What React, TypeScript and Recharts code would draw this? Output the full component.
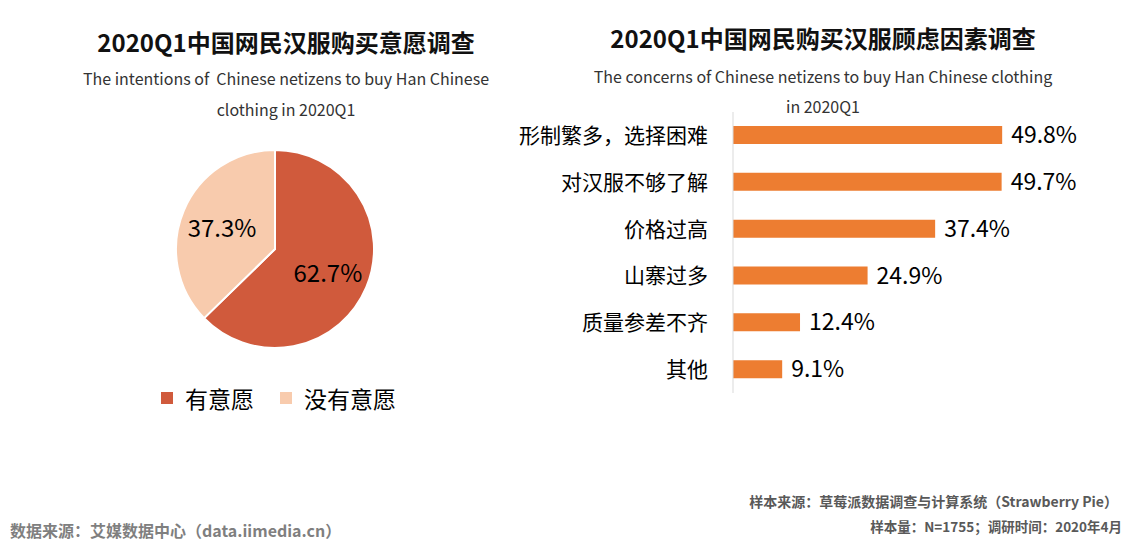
import { PieChart, Pie, Cell, Legend, BarChart, Bar, XAxis, YAxis, LabelList } from 'recharts';

const pieNames = ['有意愿', '没有意愿'];
const pieValues = [62.7, 37.3];
const PIE_COLORS = ['#D05A3C', '#F8CBAD'];

const concernNames = ['形制繁多，选择困难', '对汉服不够了解', '价格过高', '山寨过多', '质量参差不齐', '其他'];
const concernValues = [49.8, 49.7, 37.4, 24.9, 12.4, 9.1];

const pieData = pieNames.map((name, i) => ({ name, value: pieValues[i] }));
const barData = concernNames.map((name, i) => ({ name, value: concernValues[i] }));

const FONT = '"Noto Sans CJK SC", "Noto Sans", sans-serif';
const RAD = Math.PI / 180;

const renderPieLabel = (props: any) => {
  const { cx, cy, midAngle, outerRadius, value } = props;
  const r = outerRadius * 0.58;
  const x = cx + r * Math.cos(-midAngle * RAD);
  const y = cy + r * Math.sin(-midAngle * RAD);
  return (
    <text x={x} y={y} textAnchor="middle" dominantBaseline="central" fontSize={24} fill="#000">
      {`${value.toFixed(1)}%`}
    </text>
  );
};

const renderLegend = (props: any) => {
  const { payload } = props;
  return (
    <div style={{ display: 'flex', alignItems: 'center', fontSize: 23, color: '#000' }}>
      {(payload || []).map((entry: any, i: number) => (
        <div key={`leg-${i}`} style={{ display: 'flex', alignItems: 'center', marginRight: 26 }}>
          <span style={{ width: 12, height: 12, background: entry.color, display: 'inline-block', marginRight: 12 }} />
          <span>{entry.value}</span>
        </div>
      ))}
    </div>
  );
};

export default function App() {
  return (
    <div
      style={{
        position: 'absolute',
        left: 0,
        top: 0,
        width: 1134,
        height: 544,
        background: '#fff',
        fontFamily: FONT,
        overflow: 'hidden',
      }}
    >
      {/* left titles */}
      <div style={{ position: 'absolute', left: 66, width: 440, top: 26, textAlign: 'center', fontSize: 24, fontWeight: 700, lineHeight: '32px', color: '#111' }}>
        2020Q1中国网民汉服购买意愿调查
      </div>
      <div style={{ position: 'absolute', left: 56, width: 460, top: 63, textAlign: 'center', fontSize: 16, lineHeight: '31px', color: '#333' }}>
        The intentions of&nbsp; Chinese netizens to buy Han Chinese
        <br />
        clothing in 2020Q1
      </div>

      {/* right titles */}
      <div style={{ position: 'absolute', left: 573, width: 500, top: 22, textAlign: 'center', fontSize: 24, fontWeight: 700, lineHeight: '32px', color: '#111' }}>
        2020Q1中国网民购买汉服顾虑因素调查
      </div>
      <div style={{ position: 'absolute', left: 573, width: 500, top: 61, textAlign: 'center', fontSize: 16, lineHeight: '30px', color: '#333' }}>
        The concerns of Chinese netizens to buy Han Chinese clothing
        <br />
        in 2020Q1
      </div>

      <div style={{ position: 'absolute', left: 0, top: 0 }}>
        <PieChart width={560} height={440} margin={{ top: 0, right: 0, bottom: 0, left: 0 }}>
          <Pie
            data={pieData}
            dataKey="value"
            nameKey="name"
            cx={275}
            cy={249}
            outerRadius={99}
            startAngle={90}
            endAngle={-270}
            stroke="#fff"
            strokeWidth={2}
            labelLine={false}
            label={renderPieLabel}
            isAnimationActive={false}
          >
            {pieData.map((entry, index) => (
              <Cell key={`cell-${index}`} fill={PIE_COLORS[index % PIE_COLORS.length]} />
            ))}
          </Pie>
          <Legend
            content={renderLegend}
            wrapperStyle={{ left: 161, top: 381, width: 300, bottom: 'auto' }}
          />
        </PieChart>
      </div>

      <div style={{ position: 'absolute', left: 500, top: 100 }}>
        <BarChart
          width={620}
          height={310}
          data={barData}
          layout="vertical"
          margin={{ top: 12, right: 60, bottom: 17, left: 0 }}
          barSize={18}
        >
          <XAxis type="number" domain={[0, 60.5]} hide />
          <YAxis
            type="category"
            dataKey="name"
            width={233}
            tickLine={false}
            tickSize={0}
            tickMargin={25}
            axisLine={{ stroke: '#D9D9D9' }}
            tick={{ fontSize: 21, fill: '#000' }}
            interval={0}
          />
          <Bar dataKey="value" fill="#ED7D31" isAnimationActive={false}>
            <LabelList
              dataKey="value"
              position="right"
              offset={9}
              fill="#000"
              fontSize={23}
              formatter={(v: any) => `${Number(v).toFixed(1)}%`}
            />
          </Bar>
        </BarChart>
      </div>

      {/* footer */}
      <div style={{ position: 'absolute', left: 10, top: 518, fontSize: 16, fontWeight: 700, color: '#7F7F7F', whiteSpace: 'nowrap' }}>
        数据来源：艾媒数据中心（data.iimedia.cn）
      </div>
      <div style={{ position: 'absolute', right: 16, top: 491, fontSize: 14, fontWeight: 700, color: '#595959', whiteSpace: 'nowrap', textAlign: 'right' }}>
        样本来源：草莓派数据调查与计算系统（Strawberry Pie）
      </div>
      <div style={{ position: 'absolute', right: 12, top: 516, fontSize: 13.5, fontWeight: 700, color: '#595959', whiteSpace: 'nowrap', textAlign: 'right' }}>
        样本量：N=1755；调研时间：2020年4月
      </div>
    </div>
  );
}
